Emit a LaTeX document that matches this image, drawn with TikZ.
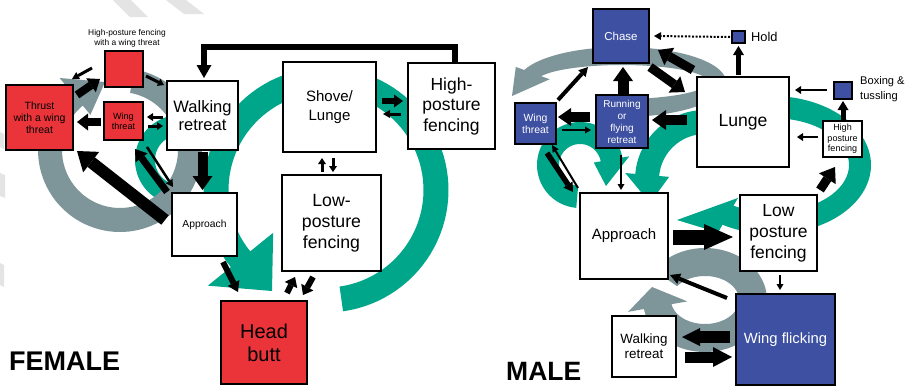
\documentclass[tikz,border=0pt]{standalone}
\usepackage{fontspec}
\setmainfont{Liberation Sans}
\usetikzlibrary{arrows.meta,calc}
\definecolor{redc}{RGB}{235,52,58}
\definecolor{bluec}{RGB}{62,80,162}
\definecolor{greenc}{RGB}{0,166,138}
\definecolor{greyc}{RGB}{126,149,154}
\definecolor{wmark}{RGB}{228,228,228}
% fat curved arrow: #1 colour, #2 cx, #3 cy, #4 a, #5 b, #6 band half width, #7 start angle, #8 head base angle, #9 tip point
\newcommand\curvarrow[9]{%
  \pgfmathsetmacro\cvAO{#4+#6}\pgfmathsetmacro\cvBO{#5+#6}%
  \pgfmathsetmacro\cvAI{#4-#6}\pgfmathsetmacro\cvBI{#5-#6}%
  \pgfmathsetmacro\cvAHO{#4+\cvhw}\pgfmathsetmacro\cvBHO{#5+\cvhw}%
  \pgfmathsetmacro\cvAHI{#4-\cvhw}\pgfmathsetmacro\cvBHI{#5-\cvhw}%
  \fill[#1] plot[domain=#7:#8,samples=90,variable=\t] ({#2+\cvAO*cos(\t)},{#3+\cvBO*sin(\t)})
    -- ({#2+\cvAHO*cos(#8)},{#3+\cvBHO*sin(#8)})
    -- #9
    -- ({#2+\cvAHI*cos(#8)},{#3+\cvBHI*sin(#8)})
    -- plot[domain=#8:#7,samples=90,variable=\t] ({#2+\cvAI*cos(\t)},{#3+\cvBI*sin(\t)})
    -- cycle;}
\begin{document}
\begin{tikzpicture}[x=1pt,y=-1pt,
  box/.style={draw=black, line width=1.8pt, fill=white, inner sep=0pt, outer sep=0pt, align=center, text=black},
  redbox/.style={box, fill=redc},
  bluebox/.style={box, fill=bluec, text=white},
  blk/.style n args={3}{draw=black, line width=#1, -{Triangle[width=#2, length=#3, line width=0pt]}}]
\useasboundingbox (0,0) rectangle (906,389);
\fill[white] (0,0) rectangle (906,389);
% faint watermark strokes
\fill[wmark] (113,0) -- (131,0) -- (148,17) -- (130,17) -- cycle;
\fill[wmark] (166,0) -- (186,0) -- (204,14) -- (184,14) -- cycle;
\fill[wmark] (0,132) -- (4,134) -- (4,149) -- (0,147) -- cycle;
\fill[wmark] (0,173) -- (5,175) -- (5,198) -- (0,196) -- cycle;
\fill[wmark] (0,263) -- (4,265) -- (4,287) -- (0,285) -- cycle;

% ---- big curved arrows, female ----
\def\cvhw{42}\curvarrow{greenc}{326}{190}{110}{110}{12.5}{82}{-219}{(272,291)}
\def\cvhw{16}\curvarrow{greenc}{180}{160}{35}{35}{10}{-90}{-250}{(185,196)}
\def\cvhw{24}\curvarrow{greyc}{120}{150}{70}{70}{12}{-80}{230}{(105,82)}
% ---- big curved arrows, male ----
\def\cvhw{22}\curvarrow{greenc}{705}{180}{58}{58}{12}{-70}{-175}{(650,203)}
\def\cvhw{18}\curvarrow{greenc}{580}{165}{32}{32}{11}{95}{350}{(606,186)}
\def\cvhw{20}\curvarrow{greenc}{772}{165}{88}{58}{11}{-100}{120}{(677,220)}
\def\cvhw{18}\curvarrow{greyc}{622}{82}{95}{26}{9}{100}{-160}{(512,96)}
\def\cvhw{30}\curvarrow{greyc}{705}{300}{48}{38}{14}{-145}{170}{(652,287)}

% ---- female boxes ----
\node[redbox, minimum width=67pt, minimum height=65pt, font=\fontsize{10.5}{12}\selectfont] (fth) at (39.5,117.5) {Thrust\\with a wing\\threat};
\node[redbox, minimum width=38pt, minimum height=36pt] (fhw) at (124,69) {};
\node[font=\fontsize{8.4}{10}\selectfont, align=center, inner sep=0pt] (fhwl) at (127,38) {High-posture fencing\\with a wing threat};
\node[redbox, minimum width=39pt, minimum height=38pt, font=\fontsize{9}{10}\selectfont] (fwt) at (123.5,121) {Wing\\threat};
\node[box, minimum width=71pt, minimum height=69pt, font=\fontsize{16.5}{18}\selectfont] (fwr) at (202.5,115.5) {Walking\\retreat};
\node[box, minimum width=65pt, minimum height=63pt, font=\fontsize{10.3}{12}\selectfont] (fap) at (204.5,224.5) {Approach};
\node[box, minimum width=93pt, minimum height=90pt, font=\fontsize{15}{19}\selectfont] (fsl) at (329.5,107) {Shove/\\Lunge};
\node[box, minimum width=87pt, minimum height=86pt, font=\fontsize{17.5}{20.5}\selectfont] (fhp) at (451.5,106) {High-\\posture\\fencing};
\node[box, minimum width=99pt, minimum height=96pt, font=\fontsize{17.7}{21}\selectfont] (flp) at (331.5,223) {Low-\\posture\\fencing};
\node[redbox, minimum width=86pt, minimum height=83pt, font=\fontsize{20}{23}\selectfont] (fhb) at (264,342.5) {Head\\butt};
\node[font=\bfseries\fontsize{27}{27}\selectfont, anchor=west, inner sep=0pt] (flab) at (9,361) {FEMALE};

% ---- male boxes ----
\node[bluebox, minimum width=56pt, minimum height=54pt, font=\fontsize{11.5}{13}\selectfont] (mch) at (621,36) {Chase};
\node[bluebox, minimum width=13pt, minimum height=12pt, line width=1.5pt] (mho) at (738.5,37) {};
\node[anchor=west, inner sep=0pt, font=\fontsize{12.8}{14}\selectfont] (mhol) at (751,37) {Hold};
\node[box, minimum width=92pt, minimum height=90pt, font=\fontsize{17.6}{20}\selectfont] (mlu) at (743,122) {Lunge};
\node[bluebox, minimum width=18pt, minimum height=17pt, line width=1.5pt] (mbx) at (843,90.5) {};
\node[anchor=west, align=left, inner sep=0pt, font=\fontsize{11.1}{15}\selectfont] (mbxl) at (860,89) {Boxing \&\\tussling};
\node[box, minimum width=39pt, minimum height=36pt, line width=1.5pt, font=\fontsize{9}{10.5}\selectfont] (mhp) at (842.5,139) {High\\posture\\fencing};
\node[bluebox, minimum width=52pt, minimum height=53pt, font=\fontsize{10}{12}\selectfont] (mrr) at (622,121.5) {Running\\or\\flying\\retreat};
\node[bluebox, minimum width=41pt, minimum height=41pt, font=\fontsize{10.4}{12}\selectfont] (mwt) at (535.5,123.5) {Wing\\threat};
\node[box, minimum width=88pt, minimum height=86pt, font=\fontsize{15}{17}\selectfont] (map) at (624,236) {Approach};
\node[box, minimum width=77pt, minimum height=76pt, font=\fontsize{17.5}{21}\selectfont] (mlp) at (778.5,233) {Low\\posture\\fencing};
\node[bluebox, minimum width=99pt, minimum height=91pt, font=\fontsize{14.8}{17}\selectfont] (mwf) at (785.5,339.5) {\raisebox{-4pt}{Wing flicking}};
\node[box, minimum width=64pt, minimum height=61pt, font=\fontsize{13.4}{15}\selectfont] (mwr) at (644,346.5) {Walking\\retreat};
\node[font=\bfseries\fontsize{26.5}{27}\selectfont, anchor=west, inner sep=0pt] (mlab) at (506,371) {MALE};

% ---- female arrows ----
\draw[blk={6pt}{15pt}{13pt}, line join=miter] ($(fhp.north)+(3.5,0)$) -- ++(0,-16) -| ($(fwr.north)+(1.5,-3)$);
\draw[blk={6pt}{13pt}{9pt}] ($(fsl.east)+(6,-6)$) -- ($(fhp.west)+(-5,-5)$);
\draw[blk={3pt}{8pt}{7pt}] ($(fhp.west)+(-7,8)$) -- ($(fsl.east)+(7,7)$);
\draw[blk={3pt}{8pt}{6pt}] ($(flp.north)+(-9.5,-3)$) -- ($(fsl.south)+(-7.5,6)$);
\draw[blk={3pt}{8pt}{6pt}] ($(fsl.south)+(3.5,6)$) -- ($(flp.north)+(1.5,-3)$);
\draw[blk={10pt}{20pt}{14pt}] ($(fwr.south)+(0,2)$) -- ($(fap.north)+(-2,-3)$);
\draw[blk={6pt}{13pt}{10pt}] ($(fap.south)+(18.5,6)$) -- ($(fhb.north)+(-26,-9)$);
\draw[blk={6pt}{14pt}{9pt}] ($(fhb.north)+(23,-8)$) -- ($(flp.south)+(-36.5,6)$);
\draw[blk={6pt}{14pt}{9pt}] ($(flp.south)+(-18.5,6)$) -- ($(fhb.north)+(39,-6)$);
\draw[blk={3pt}{8pt}{6pt}] ($(fwr.west)+(-4,1.5)$) -- ($(fwt.east)+(4,-4)$);
\draw[blk={3pt}{8pt}{6pt}] ($(fwt.east)+(5,5)$) -- ($(fwr.west)+(-4,10.5)$);
\draw[blk={8pt}{17pt}{11pt}] ($(fwt.west)+(-3,1)$) -- ($(fth.east)+(4,4.5)$);
\draw[blk={3pt}{8pt}{6pt}] ($(fhw.east)+(3,7)$) -- ($(fwr.north west)+(-3,4)$);
\draw[blk={3pt}{8pt}{7pt}] ($(fhw.west)+(-13,-1)$) -- ($(fth.north east)+(-1,-6)$);
\draw[blk={8pt}{17pt}{11pt}] ($(fth.north east)+(4,10)$) -- ($(fhw.west)+(-5,10)$);
\draw[blk={12pt}{26pt}{18pt}] ($(fap.west)+(-7,-4.5)$) -- ($(fth.south east)+(4,1)$);
\draw[blk={7pt}{15pt}{11pt}] ($(fap.north west)+(-5,-1)$) -- ($(fwt.south)+(11.5,9)$);
\draw[blk={2.5pt}{8pt}{7pt}] ($(fwt.south)+(23.5,7)$) -- ($(fap.north west)+(1,-6)$);

% ---- male arrows ----
\draw[line width=2pt, dash pattern=on 2pt off 1.6pt, -{Triangle[width=8pt,length=7pt,line width=0pt]}] ($(mho.west)+(-2,0)$) -- ($(mch.east)+(5,0)$);
\draw[blk={4.5pt}{11pt}{9pt}] ($(mlu.north)+(-4.5,-2)$) -- ($(mho.south)+(0,3)$);
\draw[blk={9pt}{20pt}{13pt}] ($(mlu.north west)+(-4,-7)$) -- ($(mch.east)+(9,14)$);
\draw[blk={9pt}{20pt}{13pt}] ($(mch.south east)+(1,4)$) -- ($(mlu.west)+(-12,-30)$);
\draw[blk={11pt}{20pt}{14pt}] ($(mrr.north)+(1,-1)$) -- ($(mch.south)+(2,4)$);
\draw[blk={4pt}{10pt}{9pt}] ($(mwt.north east)+(2,-3)$) -- ($(mch.south west)+(-5,4)$);
\draw[blk={10pt}{18pt}{13pt}] ($(mrr.west)+(-6,-4.5)$) -- ($(mwt.east)+(2,-6.5)$);
\draw[blk={2pt}{7pt}{6pt}] ($(mwt.east)+(6,6.5)$) -- ($(mrr.west)+(-5,8.5)$);
\draw[blk={10pt}{20pt}{14pt}] ($(mlu.west)+(-10,-2)$) -- ($(mrr.east)+(4,-1.5)$);
\draw[blk={2pt}{7pt}{6pt}] ($(mrr.south)+(-1,7)$) -- ($(map.north)+(-3,-3)$);
\draw[blk={5.5pt}{11pt}{9pt}] ($(mwt.south)+(11.5,9)$) -- ($(map.north west)+(-7,-1)$);
\draw[blk={2pt}{7pt}{7pt}] ($(map.north west)+(-2,-5)$) -- ($(mwt.south)+(16.5,1)$);
\draw[blk={2.5pt}{8pt}{6pt}] ($(mbx.west)+(-7,-0.5)$) -- ($(mlu.east)+(6,-32)$);
\draw[blk={5pt}{11pt}{9pt}] ($(mhp.north)+(0.5,-1)$) -- ($(mbx.south)+(0,2)$);
\draw[blk={2.5pt}{8pt}{6pt}] ($(mhp.west)+(-5,-2)$) -- ($(mlu.east)+(8,15)$);
\draw[blk={9pt}{20pt}{14pt}] ($(mlp.north east)+(3,-5)$) -- ($(mhp.south)+(-7.5,10)$);
\draw[blk={15pt}{26pt}{29pt}] ($(map.east)+(5,1)$) -- ($(mlp.west)+(-7,4)$);
\draw[blk={4pt}{11pt}{10pt}] ($(mwf.north west)+(-9,4)$) -- ($(map.south east)+(2,-4)$);
\draw[blk={2pt}{7pt}{6pt}] ($(mlp.south)+(1.5,4)$) -- ($(mwf.north)+(-5.5,-4)$);
\draw[blk={12pt}{18pt}{18pt}] ($(mwf.west)+(-6,-2.5)$) -- ($(mwr.east)+(6,-9.5)$);
\draw[blk={11pt}{20pt}{19pt}] ($(mwr.east)+(9,10.5)$) -- ($(mwf.west)+(-4,17.5)$);
\end{tikzpicture}
\end{document}
